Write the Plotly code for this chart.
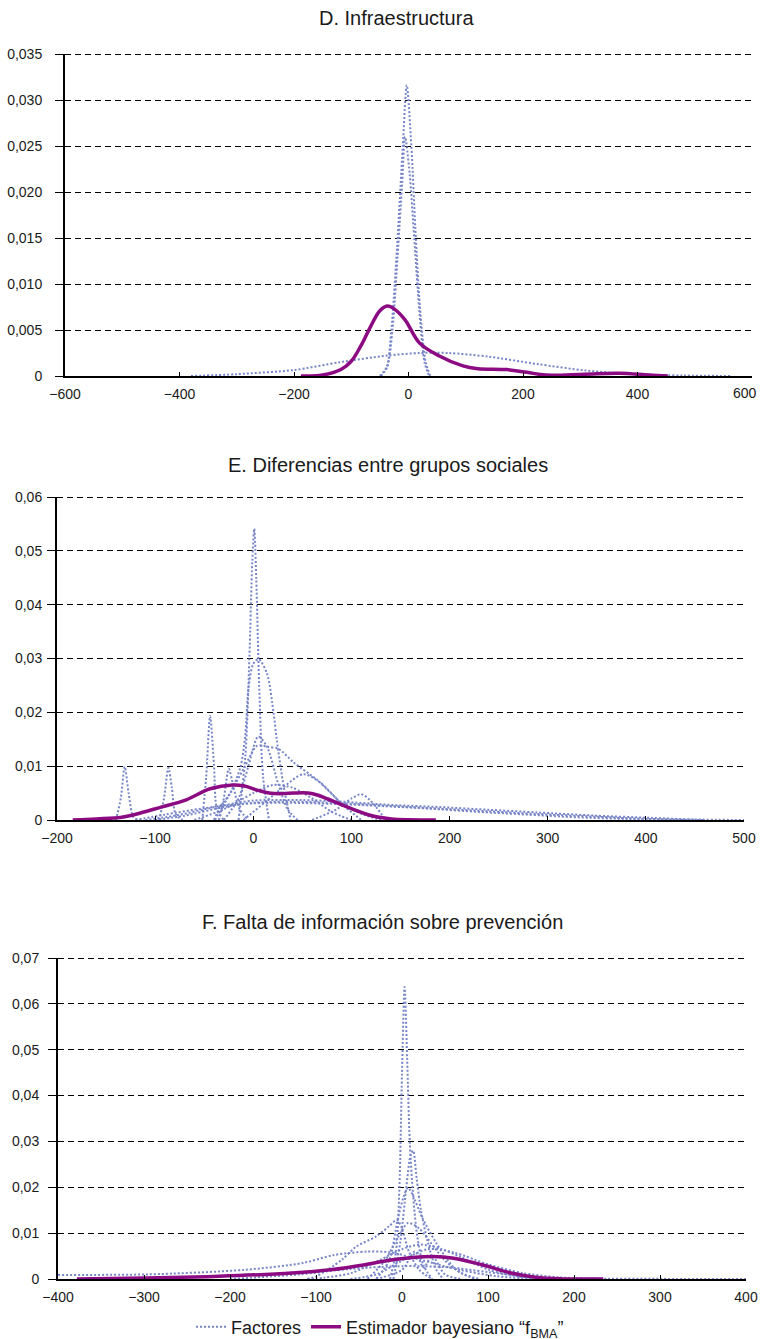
import plotly.graph_objects as go

W, H = 762, 1339

# ---------------- Panel D ----------------
D_TITLE = "D. Infraestructura"
D_XTICKS = [-600, -400, -200, 0, 200, 400, 600]
D_XLABELS = ["−600", "−400", "−200", "0", "200", "400", "600"]
D_YTICKS = [0, 0.005, 0.010, 0.015, 0.020, 0.025, 0.030, 0.035]
D_YLABELS = ["0", "0,005", "0,010", "0,015", "0,020", "0,025", "0,030", "0,035"]
D_FACT_X = [
    [-50, -38, -30, -20, -10, -3, 5, 12, 20, 30, 38],
    [-48, -37, -28, -19, -11, -6, 2, 10, 19, 28, 36],
    [-380, -300, -200, -120, -40, 20, 70, 140, 225, 310, 400, 480, 565],
]
D_FACT_Y = [
    [0, 0.001, 0.005, 0.014, 0.025, 0.0316, 0.025, 0.016, 0.0075, 0.0015, 0],
    [0, 0.001, 0.005, 0.013, 0.021, 0.026, 0.022, 0.015, 0.007, 0.0015, 0],
    [0, 0.0002, 0.00065, 0.0015, 0.0022, 0.0025, 0.0025, 0.0021, 0.0013, 0.0006, 0.00018, 0.00005, 0],
]
D_BMA_X = [-188, -150, -118, -100, -83, -66, -50, -37, -25, -6, 19, 53, 95, 121, 172, 207, 240, 308, 368, 420, 453]
D_BMA_Y = [0, 0.0001, 0.0007, 0.0016, 0.0033, 0.0054, 0.0071, 0.0076, 0.0073, 0.0061, 0.0036, 0.0022,
           0.0011, 0.0008, 0.0007, 0.0004, 0.0001, 0.0002, 0.0003, 0.0001, 0]

# ---------------- Panel E ----------------
E_TITLE = "E. Diferencias entre grupos sociales"
E_XTICKS = [-200, -100, 0, 100, 200, 300, 400, 500]
E_XLABELS = ["−200", "−100", "0", "100", "200", "300", "400", "500"]
E_YTICKS = [0, 0.01, 0.02, 0.03, 0.04, 0.05, 0.06]
E_YLABELS = ["0", "0,01", "0,02", "0,03", "0,04", "0,05", "0,06"]
E_FACT_X = [
    [-15, -8, -4, -1, 1, 3, 6, 10, 16],
    [-40, -34, -23.5, -13, -8, -4.8, 0, 5.4, 14, 20.7, 24, 31, 38],
    [-30, -15, -5, 5, 14, 25, 35, 45],
    [-39, -24, -9, 4, 15, 26, 41, 66, 91, 111, 130],
    [-140, -135, -131, -127, -122, -115],
    [-96, -91, -86.5, -83, -79, -72],
    [-52, -48, -44, -40, -37, -30],
    [-35, -30, -25, -20, -14, -5],
    [-10, 10, 30, 51, 68, 90, 110],
    [60, 85, 100, 110, 120, 135],
    [-60, -30, 0, 20, 40, 60, 80, 100],
    [-110, -80, -34, 0, 50, 91, 140, 190, 240, 290, 350, 405, 450, 500],
    [-100, -70, -30, 0, 40, 90, 140, 190, 240, 290, 350, 400, 460],
    [-120, -90, -50, -10, 30, 80, 130, 180, 230, 280, 330, 380, 430],
]
E_FACT_Y = [
    [0, 0.012, 0.03, 0.048, 0.0541, 0.045, 0.025, 0.008, 0],
    [0, 0.0024, 0.005, 0.0099, 0.016, 0.0247, 0.029, 0.0299, 0.0272, 0.0198, 0.0148, 0.0062, 0],
    [0, 0.004, 0.01, 0.0155, 0.0136, 0.007, 0.002, 0],
    [0, 0.0048, 0.0098, 0.0138, 0.0136, 0.0132, 0.0107, 0.0073, 0.003, 0.0011, 0],
    [0, 0.004, 0.0099, 0.005, 0.0005, 0],
    [0, 0.004, 0.0097, 0.006, 0.001, 0],
    [0, 0.008, 0.0193, 0.01, 0.002, 0],
    [0, 0.004, 0.0095, 0.006, 0.002, 0],
    [0, 0.003, 0.006, 0.0085, 0.007, 0.003, 0],
    [0, 0.002, 0.004, 0.0048, 0.0035, 0],
    [0, 0.002, 0.005, 0.0065, 0.006, 0.004, 0.0015, 0],
    [0, 0.0008, 0.0026, 0.0036, 0.0037, 0.0034, 0.0028, 0.0024, 0.0019, 0.0014, 0.0008, 0.0004, 0.0001, 0],
    [0, 0.0008, 0.0024, 0.0032, 0.0034, 0.0031, 0.0026, 0.0021, 0.0016, 0.0011, 0.0006, 0.0002, 0],
    [0, 0.001, 0.0022, 0.003, 0.0032, 0.003, 0.0026, 0.0021, 0.0015, 0.001, 0.0005, 0.0002, 0],
]
E_BMA_X = [-184, -160, -134, -115, -94, -69, -44, -21, -9, 5, 16, 30, 41, 56, 66, 76, 96, 121, 141, 160, 186]
E_BMA_Y = [0, 0.0002, 0.0005, 0.0013, 0.0024, 0.0037, 0.0058, 0.0065, 0.0063, 0.0055, 0.0050, 0.0049,
           0.0050, 0.0050, 0.0046, 0.0039, 0.0024, 0.0008, 0.0002, 0.00005, 0]

# ---------------- Panel F ----------------
F_TITLE = "F. Falta de información sobre prevención"
F_XTICKS = [-400, -300, -200, -100, 0, 100, 200, 300, 400]
F_XLABELS = ["−400", "−300", "−200", "−100", "0", "100", "200", "300", "400"]
F_YTICKS = [0, 0.01, 0.02, 0.03, 0.04, 0.05, 0.06, 0.07]
F_YLABELS = ["0", "0,01", "0,02", "0,03", "0,04", "0,05", "0,06", "0,07"]
F_FACT_X = [
    [-14, -7, -3, 0, 3, 6, 9, 13, 18, 25, 35],
    [-10, -2, 5, 10, 13, 17, 22, 30, 40, 48],
    [-30, -15, -5, 2, 7, 12, 23, 40, 63, 85],
    [-110, -99, -70, -53, -30, -15, -6, 0, 8, 20, 35],
    [-40, -20, -5, 7, 20, 35, 50, 70, 90],
    [-110, -90, -59, -25, 0, 21, 45, 67, 101, 135, 170],
    [-400, -297, -183, -115, -80, -40, -13, 21, 67, 110, 150],
    [-60, -30, 0, 30, 60, 100, 140, 180, 220, 300, 400],
    [-200, -120, -60, 0, 50, 100, 150, 200],
    [-30, 0, 15, 25, 35, 50, 70],
]
F_FACT_Y = [
    [0, 0.006, 0.02, 0.045, 0.0637, 0.048, 0.03, 0.018, 0.009, 0.003, 0],
    [0, 0.008, 0.02, 0.027, 0.028, 0.022, 0.015, 0.008, 0.002, 0],
    [0, 0.004, 0.013, 0.018, 0.0199, 0.0185, 0.0136, 0.0078, 0.002, 0],
    [0, 0.0006, 0.0042, 0.0071, 0.0093, 0.0115, 0.0129, 0.011, 0.006, 0.002, 0],
    [0, 0.004, 0.009, 0.0122, 0.011, 0.0075, 0.004, 0.0012, 0],
    [0, 0.0003, 0.0013, 0.0042, 0.0065, 0.0075, 0.0066, 0.0049, 0.002, 0.0006, 0],
    [0.0009, 0.0010, 0.002, 0.0035, 0.0052, 0.006, 0.0058, 0.0042, 0.002, 0.0006, 0.0001],
    [0, 0.001, 0.004, 0.0065, 0.0058, 0.0032, 0.0013, 0.0004, 0.0001, 0.00003, 0],
    [0, 0.001, 0.0022, 0.0028, 0.0026, 0.0015, 0.0004, 0],
    [0, 0.002, 0.006, 0.0025, 0.005, 0.001, 0],
]
F_BMA_X = [-378, -297, -213, -128, -83, -43, -15, 13, 36, 58, 93, 127, 155, 183, 234]
F_BMA_Y = [0, 0.0002, 0.0006, 0.0013, 0.002, 0.0031, 0.0041, 0.0047, 0.0049, 0.0046, 0.0031, 0.0013,
           0.0004, 0.00005, 0]

LEG_FACT = "Factores"
LEG_BMA = "Estimador bayesiano “f<sub>BMA</sub>”"

# ---------------- styling / layout ----------------
FONT = "Liberation Sans, Arial, sans-serif"
DOT_COLOR = "#7886c8"
BMA_COLOR = "#8c0a82"
GRID_DASH = "6px,4px"
TEXT_COLOR = "#1a1a1a"

PANELS = [
    dict(x0=65, x1=752, y0=54, y1=376, tx=396, ty=18, sy=10, edge_label_x=745,
         title=D_TITLE, xr=[-600, 600], yr=[0, 0.035],
         xt=D_XTICKS, xl=D_XLABELS, yt=D_YTICKS, yl=D_YLABELS,
         fx=D_FACT_X, fy=D_FACT_Y, bx=D_BMA_X, by=D_BMA_Y),
    dict(x0=57, x1=744, y0=497, y1=820, tx=388, ty=465, sy=2, edge_label_x=None,
         title=E_TITLE, xr=[-200, 500], yr=[0, 0.06],
         xt=E_XTICKS, xl=E_XLABELS, yt=E_YTICKS, yl=E_YLABELS,
         fx=E_FACT_X, fy=E_FACT_Y, bx=E_BMA_X, by=E_BMA_Y),
    dict(x0=58, x1=746, y0=958, y1=1279, tx=382, ty=922, sy=6, edge_label_x=None,
         title=F_TITLE, xr=[-400, 400], yr=[0, 0.07],
         xt=F_XTICKS, xl=F_XLABELS, yt=F_YTICKS, yl=F_YLABELS,
         fx=F_FACT_X, fy=F_FACT_Y, bx=F_BMA_X, by=F_BMA_Y),
]

fig = go.Figure()
annotations = []
shapes = []
layout_axes = {}
first_fact = True
for i, p in enumerate(PANELS, start=1):
    xa = "x" if i == 1 else f"x{i}"
    ya = "y" if i == 1 else f"y{i}"
    for xs, ys in zip(p["fx"], p["fy"]):
        fig.add_trace(go.Scatter(
            x=xs, y=ys, xaxis=xa, yaxis=ya, mode="lines",
            line=dict(color=DOT_COLOR, width=2, dash="2px,2px", shape="spline", smoothing=0.8),
            name=LEG_FACT, legendgroup="fact", showlegend=first_fact, hoverinfo="skip"))
        first_fact = False
    fig.add_trace(go.Scatter(
        x=p["bx"], y=p["by"], xaxis=xa, yaxis=ya, mode="lines",
        line=dict(color=BMA_COLOR, width=3.5, shape="spline", smoothing=1.0),
        name=LEG_BMA, legendgroup="bma", showlegend=(i == 3), hoverinfo="skip"))

    # x tick labels: the last one of panel D would run past the page edge,
    # so it is written as an annotation slightly to the left (as in the original)
    xlabels = list(p["xl"])
    if p["edge_label_x"] is not None:
        last_text = xlabels[-1]
        xlabels[-1] = " "
        annotations.append(dict(
            text=last_text, x=p["edge_label_x"] / W, y=1 - (p["y1"] + 17) / H,
            xref="paper", yref="paper", xanchor="center", yanchor="middle", showarrow=False,
            font=dict(family=FONT, size=14, color=TEXT_COLOR)))

    xkey = "xaxis" if i == 1 else f"xaxis{i}"
    ykey = "yaxis" if i == 1 else f"yaxis{i}"
    layout_axes[xkey] = dict(
        domain=[p["x0"] / W, p["x1"] / W], anchor=ya, range=p["xr"],
        tickmode="array", tickvals=p["xt"], ticktext=xlabels,
        ticks="inside", ticklen=4, tickcolor="black", tickwidth=1,
        showline=True, linecolor="black", linewidth=2,
        showgrid=False, zeroline=False, ticklabelstandoff=4, automargin=False,
        ticklabeloverflow="allow",
        tickfont=dict(family=FONT, size=14, color=TEXT_COLOR), fixedrange=True)
    layout_axes[ykey] = dict(
        domain=[1 - p["y1"] / H, 1 - p["y0"] / H], anchor=xa, range=p["yr"],
        tickmode="array", tickvals=p["yt"], ticktext=p["yl"],
        ticks="outside", ticklen=8, tickcolor="black", tickwidth=1,
        showline=True, linecolor="black", linewidth=2,
        showgrid=True, gridcolor="black", gridwidth=1, griddash=GRID_DASH,
        zeroline=False, ticklabelstandoff=p["sy"], automargin=False,
        ticklabeloverflow="allow",
        tickfont=dict(family=FONT, size=14, color=TEXT_COLOR), fixedrange=True)
    # top gridline (at the range maximum, which plotly omits); nudged half a pixel to stay crisp
    ytop = p["yr"][1] * (1 - 0.5 / (p["y1"] - p["y0"]))
    shapes.append(dict(type="line", xref=f"{xa} domain", yref=ya, x0=0, x1=1,
                       y0=ytop, y1=ytop, layer="below",
                       line=dict(color="black", width=1, dash=GRID_DASH)))
    annotations.append(dict(
        text=p["title"], x=p["tx"] / W, y=1 - p["ty"] / H, xref="paper", yref="paper",
        xanchor="center", yanchor="middle", showarrow=False,
        font=dict(family=FONT, size=20, color=TEXT_COLOR)))

fig.update_layout(
    width=W, height=H, margin=dict(l=0, r=0, t=0, b=0, pad=0, autoexpand=False),
    paper_bgcolor="white", plot_bgcolor="white",
    font=dict(family=FONT, color=TEXT_COLOR),
    annotations=annotations, shapes=shapes,
    legend=dict(orientation="h", x=380 / W, xanchor="center", y=1 - 1327 / H, yanchor="middle",
                font=dict(family=FONT, size=18, color=TEXT_COLOR), bgcolor="rgba(0,0,0,0)",
                itemwidth=30, tracegroupgap=0),
    **layout_axes,
)

fig.write_html("out.html", config={"displayModeBar": False},
               post_script="document.body.style.margin='0';document.body.style.overflow='hidden';")
